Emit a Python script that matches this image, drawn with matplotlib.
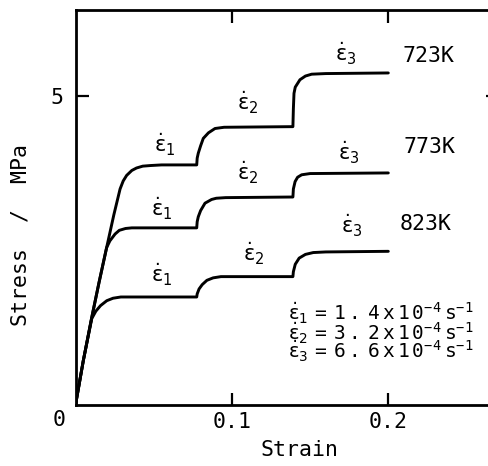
import matplotlib
matplotlib.use("Agg")
import matplotlib.pyplot as plt

# Kurven (Dehnung, Spannung in MPa)
strain_723 = [0, 0.005, 0.0104, 0.015, 0.0199, 0.0245, 0.0285, 0.0305, 0.0327, 0.036, 0.039,
              0.043, 0.048, 0.055, 0.0775, 0.0778, 0.0785, 0.080, 0.0817, 0.085, 0.0892,
              0.095, 0.139, 0.1393, 0.1397, 0.1405, 0.1435, 0.147, 0.151, 0.160, 0.200]
stress_723 = [0, 0.72, 1.42, 1.98, 2.55, 3.08, 3.50, 3.63, 3.72, 3.80, 3.84,
              3.87, 3.88, 3.89, 3.89, 4.00, 4.08, 4.20, 4.32, 4.41, 4.48,
              4.50, 4.51, 4.80, 5.05, 5.15, 5.27, 5.33, 5.36, 5.37, 5.38]

strain_773 = [0, 0.005, 0.0104, 0.015, 0.0199, 0.022, 0.0253, 0.028, 0.032, 0.036, 0.0775,
              0.0778, 0.0785, 0.080, 0.0828, 0.087, 0.090, 0.096, 0.139,
              0.1393, 0.1404, 0.142, 0.1446, 0.150, 0.200]
stress_773 = [0, 0.72, 1.42, 1.98, 2.55, 2.66, 2.77, 2.83, 2.86, 2.87, 2.87,
              2.97, 3.05, 3.15, 3.27, 3.33, 3.35, 3.36, 3.37,
              3.50, 3.62, 3.69, 3.73, 3.75, 3.76]

strain_823 = [0, 0.005, 0.0104, 0.013, 0.016, 0.020, 0.024, 0.029, 0.0775,
              0.0778, 0.079, 0.081, 0.084, 0.088, 0.093, 0.139,
              0.1393, 0.1405, 0.143, 0.147, 0.152, 0.160, 0.200]
stress_823 = [0, 0.72, 1.40, 1.52, 1.61, 1.69, 1.73, 1.75, 1.75,
              1.80, 1.88, 1.95, 2.02, 2.06, 2.08, 2.08,
              2.16, 2.28, 2.38, 2.44, 2.47, 2.48, 2.49]

temps = ["723K", "773K", "823K"]
temp_pos = [(0.226, 5.66), (0.2266, 4.18), (0.224, 2.93)]

# Beschriftung der Dehnraten: (Index, x, y)
rate_labels = [(1, 0.0569, 4.21), (2, 0.110, 4.89), (3, 0.173, 5.69),
               (1, 0.055, 3.18), (2, 0.110, 3.77), (3, 0.1746, 4.09),
               (1, 0.055, 2.115), (2, 0.1138, 2.45), (3, 0.1765, 2.91)]

rate_values = ["1.4", "3.2", "6.6"]
rate_baselines = [1.36, 1.05, 0.75]

mono = "DejaVu Sans Mono"
EPS = r"\dot{\mathrm{\varepsilon}}"


def spaced(s):
    # Schreibmaschinen-Abstand zwischen den Zeichen
    return r"\,".join(r"\mathtt{%s}" % c for c in s)


fig = plt.figure(figsize=(4.88, 4.66), dpi=100)
ax = fig.add_axes([75.5 / 488, 61 / 466, (497.8 - 75.5) / 488, 395 / 466])

for s, st in [(strain_723, stress_723), (strain_773, stress_773), (strain_823, stress_823)]:
    ax.plot(s, st, color="black", lw=2.1, solid_joinstyle="round", solid_capstyle="round")

ax.set_xlim(0, 0.27)
ax.set_ylim(0, 6.4)

for sp in ax.spines.values():
    sp.set_linewidth(2.0)

ax.set_xticks([0.1, 0.2])
ax.set_xticklabels(["0.1", "0.2"])
ax.set_yticks([5])
ax.set_yticklabels(["5"])
ax.tick_params(direction="in", length=9, width=1.6, top=True, right=True,
               labelsize=15.5, colors="black")
ax.tick_params(axis="x", pad=5)
ax.tick_params(axis="y", pad=9)
for lab in ax.get_xticklabels() + ax.get_yticklabels():
    lab.set_family(mono)

ax.text(-0.0105, -0.24, "0", family=mono, fontsize=15.5, ha="center", va="center",
        clip_on=False)

for t, (x, y) in zip(temps, temp_pos):
    ax.text(x, y, t, family=mono, fontsize=15.5, ha="center", va="center")

for i, x, y in rate_labels:
    ax.text(x, y, r"$%s_{%d}$" % (EPS, i), fontsize=15, ha="center", va="center")

for k, (v, y) in enumerate(zip(rate_values, rate_baselines)):
    txt = r"$%s_{%d}\,\mathtt{=}\,%s^{\mathtt{-}\mathtt{4}}\,\mathtt{s}^{\mathtt{-}\mathtt{1}}$" % (
        EPS, k + 1, spaced(v + "x10"))
    ax.text(0.1359, y, txt, fontsize=14, ha="left", va="baseline")

fig.text(299 / 488, 1 - 450 / 466, "Strain", family=mono, fontsize=15.5,
         ha="center", va="center")
fig.text(21 / 488, 1 - 235 / 466, "Stress  /  MPa", family=mono, fontsize=15.5,
         ha="center", va="center", rotation=90)

fig.savefig("out.png", dpi=100)
